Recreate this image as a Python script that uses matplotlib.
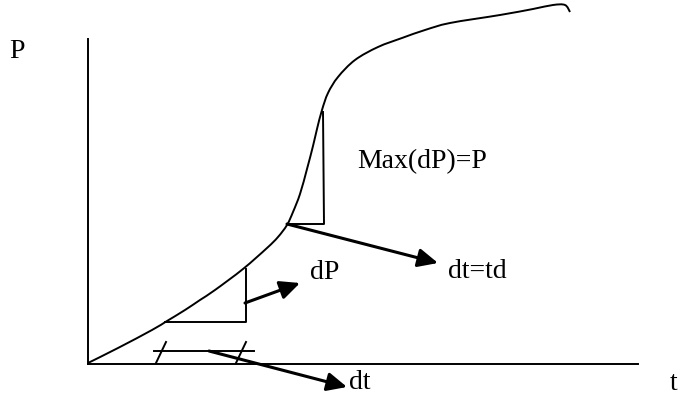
import matplotlib.pyplot as plt
from matplotlib.path import Path
from matplotlib.patches import PathPatch

# pixel coords (x right, y down)
curve_x = [88, 118, 152, 167, 185, 200, 215, 243, 267, 278, 287, 293, 300, 307,
           313, 317, 322, 328, 338, 355, 378, 402, 425, 450, 500, 533, 553, 565, 570]
curve_y = [363, 348, 330, 321, 310, 300, 290, 269, 248, 237, 225, 212, 194, 169,
           146, 129, 110, 93, 77, 60, 47, 38, 30, 23, 15, 9, 5, 5, 12]

# small slope triangle (lower) and the steep one (upper)
tri_low_x = [165, 246, 246]
tri_low_y = [322, 322, 269]
tri_up_x = [287, 324, 323]
tri_up_y = [224, 224, 112]

# dt marker on the time axis
dt_bar_x = [154, 254]
dt_bar_y = [351, 351]
slash1_x, slash1_y = [156, 166], [363, 342]
slash2_x, slash2_y = [236, 246], [363, 342]

# arrows: (start, tip)
arrows = [((245, 303), (300, 283)),
          ((287, 224), (438, 263)),
          ((209, 351), (347, 387))]

labels = [("P", 9, 58),
          ("Max(dP)=P", 357, 168),
          ("dP", 310, 279),
          ("dt=td", 448, 278),
          ("dt", 349, 389),
          ("t", 670, 390)]

fig = plt.figure(figsize=(6.78, 4.03), dpi=100)
ax = fig.add_axes([0, 0, 1, 1])
ax.set_xlim(0, 678)
ax.set_ylim(403, 0)
ax.axis('off')

lw = 1.4
# axes
ax.plot([88, 88], [39, 364], color='black', lw=lw)
ax.plot([88, 638], [364, 364], color='black', lw=lw)

# smooth pen stroke through the read points (Catmull-Rom as cubic beziers)
pts = list(zip(curve_x, curve_y))
verts = [pts[0]]
codes = [Path.MOVETO]
for i in range(len(pts) - 1):
    p0 = pts[i - 1] if i > 0 else pts[i]
    p1, p2 = pts[i], pts[i + 1]
    p3 = pts[i + 2] if i + 2 < len(pts) else pts[i + 1]
    c1 = (p1[0] + (p2[0] - p0[0]) / 6, p1[1] + (p2[1] - p0[1]) / 6)
    c2 = (p2[0] - (p3[0] - p1[0]) / 6, p2[1] - (p3[1] - p1[1]) / 6)
    verts += [c1, c2, p2]
    codes += [Path.CURVE4] * 3
ax.add_patch(PathPatch(Path(verts, codes), fill=False, edgecolor='black', lw=lw))

ax.plot(tri_low_x, tri_low_y, color='black', lw=lw)
ax.plot(tri_up_x, tri_up_y, color='black', lw=lw)
ax.plot(dt_bar_x, dt_bar_y, color='black', lw=lw)
ax.plot(slash1_x, slash1_y, color='black', lw=lw)
ax.plot(slash2_x, slash2_y, color='black', lw=lw)

for start, tip in arrows:
    ax.annotate('', xy=tip, xytext=start,
                arrowprops=dict(arrowstyle='-|>,head_length=0.6,head_width=0.28',
                                mutation_scale=20, lw=2.2, color='black',
                                shrinkA=0, shrinkB=0))

for txt, x, y in labels:
    ax.text(x, y, txt, ha='left', va='baseline', fontsize=20,
            family='Liberation Serif', color='black')

fig.savefig('out.png', dpi=100)
